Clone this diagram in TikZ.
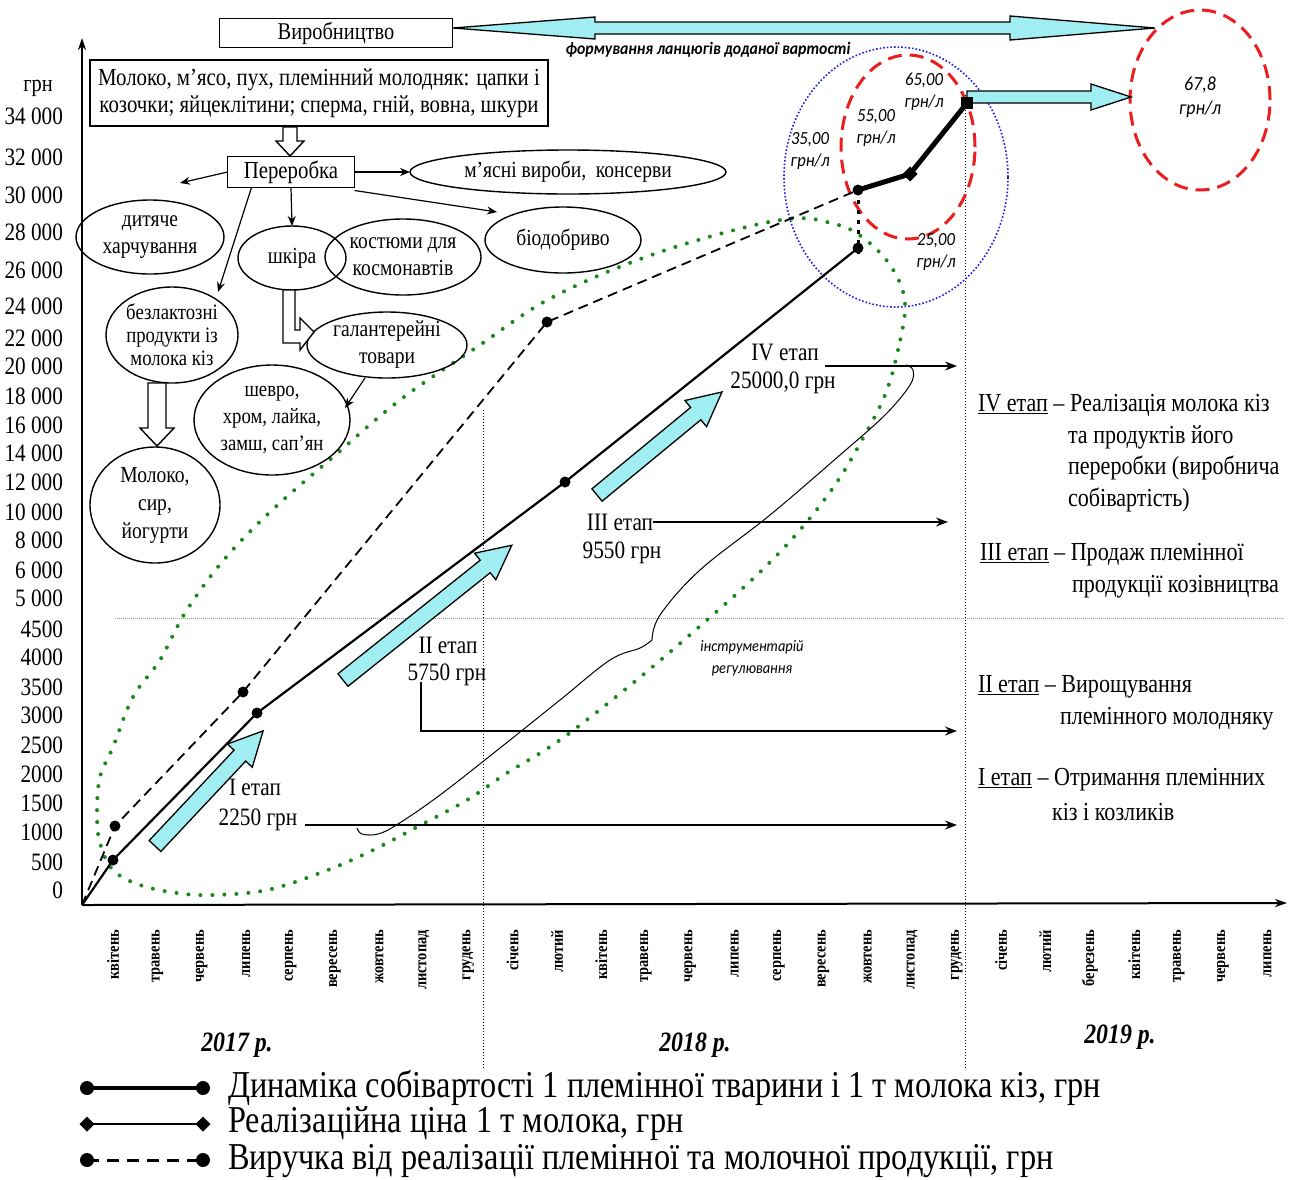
\documentclass[tikz,border=0pt]{standalone}
\usepackage{fontspec}
\setmainfont{Liberation Serif}[FakeStretch=0.85]
\newfontfamily\calfont{Carlito}[FakeStretch=0.9]
\usetikzlibrary{shapes.geometric,arrows.meta,calc}
\definecolor{cyanfill}{RGB}{160,238,242}
\definecolor{dotgreen}{RGB}{25,135,25}
\definecolor{dashred}{RGB}{235,30,30}
\definecolor{dotblue}{RGB}{30,30,230}
\newcommand{\fsz}[2]{\fontsize{#1pt}{#2pt}\selectfont}
\begin{document}
\begin{tikzpicture}[x=1pt,y=-1pt,
  every node/.style={inner sep=0pt, outer sep=0pt},
  box/.style={draw, line width=1.5pt, fill=white, align=center, font=\fsz{24.5}{27}},
  ell/.style={ellipse, draw, line width=1.4pt, align=center, inner sep=-4pt, font=\fsz{23}{27}},
  txt/.style={align=center, font=\fsz{25}{28}},
  ylab/.style={anchor=east, font=\fsz{25}{25}},
  month/.style={rotate=90, anchor=east, font=\bfseries\fsz{17}{17}},
  year/.style={font=\bfseries\itshape\fsz{28}{28}},
  cal/.style={font=\calfont\itshape\fsz{18.5}{22}, align=center},
  arr/.style={line width=1.2pt, -{Stealth[length=10pt,width=8pt]}},
  stagearr/.style={line width=1.5pt, -{Stealth[length=12pt,width=9pt]}},
  ptdot/.style={circle, fill=black, minimum size=11pt},
  blockarrow/.style={draw=black, line width=1.3pt, fill=cyanfill, line join=miter},
  hollow/.style={draw=black, line width=1.4pt, fill=white, line join=miter},
  legtxt/.style={anchor=west, font=\fsz{38}{38}},
  rtxt/.style={anchor=west, font=\fsz{26}{26}},
  greendots/.style={dotgreen, line width=4pt, dash pattern=on 0pt off 12pt, line cap=round}
]
\fill[white] (0,0) rectangle (1297,1179);
\useasboundingbox (0,0) rectangle (1297,1179);

% ---------- grid lines ----------
\draw[gray!80, line width=1pt, densely dotted] (115,618) -- (1285,618);
\draw[line width=1pt, dotted] (483,410) -- (483,1070);
\draw[line width=1pt, dotted] (965,95) -- (965,1070);

% ---------- axes ----------
\coordinate (O) at (82,905);
\coordinate (ytop) at (82,38);
\coordinate (xend) at (1287,903);
\draw[line width=2pt, -{Stealth[length=12pt,width=8pt]}] (O) -- (ytop);
\draw[line width=2pt, -{Stealth[length=12pt,width=8pt]}] (O) -- (xend);

% y labels
\node[font=\fsz{24}{24}] (grn) at (38,88) {грн};
\foreach \v/\y in {34 000/116, 32 000/157, 30 000/195, 28 000/232, 26 000/270,
  24 000/306, 22 000/338, 20 000/366, 18 000/396, 16 000/425, 14 000/453,
  12 000/482, 10 000/512, 8 000/540, 6 000/570, 5 000/598, 4500/629, 4000/657,
  3500/687, 3000/715, 2500/745, 2000/774, 1500/803, 1000/832, 500/862, 0/890}
  \node[ylab] (y\y) at (63,\y) {\v};

% month labels
\foreach \m [count=\i from 0] in {квітень,травень,червень,липень,серпень,вересень,жовтень,листопад,грудень,січень,лютий,квітень,травень,червень,липень,серпень,вересень,жовтень,листопад,грудень,січень,лютий,березень,квітень,травень,червень,липень}
  \node[month] (m\i) at ({113+44.4*\i},930) {\m};
\node[year] (yr17) at (237,1045) {2017 р.};
\node[year] (yr18) at (695,1045) {2018 р.};
\node[year] (yr19) at (1120,1037) {2019 р.};

% ---------- green loop ----------
\draw[greendots] plot[smooth cycle, tension=0.6] coordinates {
 (905,303) (898,350) (885,395) (862,440) (835,485) (800,530) (760,572) (707,620)
 (633,683) (560,740) (507,773) (467,800) (417,827) (367,853) (320,873) (267,890)
 (213,895) (177,893) (140,885) (113,870) (100,843) (97,813) (100,777) (113,747)
 (133,697) (160,660) (185,613) (222,562) (270,512) (333,457) (400,400) (477,347)
 (553,297) (660,252) (780,220) (835,224) (866,240) (892,268)};

% ---------- circles ----------
\draw[dotblue, line width=1.6pt, dotted] (896,177) ellipse [x radius=112pt, y radius=130pt];
\draw[dashred, line width=3pt, dash pattern=on 14pt off 8pt] (908,147) ellipse [x radius=67pt, y radius=92pt];
\draw[dashred, line width=3pt, dash pattern=on 14pt off 8pt] (1200,100) ellipse [x radius=70pt, y radius=90pt];

% ---------- top long arrow ----------
\draw[blockarrow] (453,28) -- (595,17) -- (595,22) -- (1010,22) -- (1010,16) -- (1155,28)
  -- (1010,40) -- (1010,34) -- (595,34) -- (595,39) -- cycle;
\node[cal, font=\calfont\bfseries\itshape\fsz{17.5}{17.5}] (form) at (708,50) {формування ланцюгів доданої вартості};
% right block arrow
\draw[blockarrow] (967,91) -- (1091,91) -- (1091,84) -- (1131,97) -- (1091,110) -- (1091,103) -- (967,103) -- cycle;

% ---------- data lines ----------
\coordinate (c1) at (113,860);
\coordinate (c2) at (257,713);
\coordinate (c3) at (565,482);
\coordinate (c4) at (858,248);
\coordinate (r1) at (115,826);
\coordinate (r2) at (243,692);
\coordinate (r3) at (547,322);
\coordinate (r4) at (858,190);
\coordinate (p1) at (910,174);
\coordinate (p2) at (967,103);
\coordinate (c4b) at (858,258);
\draw[line width=2.2pt] (O) -- (c1) -- (c2) -- (c3) -- (c4);
\draw[line width=1.8pt, dash pattern=on 10pt off 6pt] (O) -- (r1) -- (r2) -- (r3) -- (r4);
\draw[line width=3pt, dash pattern=on 4pt off 6pt] (r4) -- (c4b);
\draw[line width=5pt, line join=round] (r4) -- (p1) -- (p2);
\foreach \c in {c1,c2,c3,c4,r1,r2,r3,r4} \node[ptdot] (d\c) at (\c) {};
\node[diamond, fill=black, minimum size=15pt] (dp1) at (p1) {};
\node[fill=black, minimum size=12pt] (dp2) at (p2) {};

% circle labels
\node[cal] (v65) at (924,92) {65,00\\грн/л};
\node[cal] (v55) at (876,128) {55,00\\грн/л};
\node[cal] (v35) at (810,151) {35,00\\грн/л};
\node[cal] (v25) at (936,252) {25,00\\грн/л};
\node[cal, font=\calfont\itshape\fsz{20}{24}] (v678) at (1200,97) {67,8\\грн/л};

% ---------- cyan block arrows ----------
\begin{scope}[shift={(155,846)}, rotate=46.8]
 \draw[blockarrow] (0,-8) -- (124,-8) -- (124,-17) -- (158,0) -- (124,17) -- (124,8) -- (0,8) -- cycle;
\end{scope}
\begin{scope}[shift={(343,680)}, rotate=38.6]
 \draw[blockarrow] (0,-8) -- (182,-8) -- (182,-17) -- (216,0) -- (182,17) -- (182,8) -- (0,8) -- cycle;
\end{scope}
\begin{scope}[shift={(597,495)}, rotate=39.5]
 \draw[blockarrow] (0,-8) -- (128,-8) -- (128,-17) -- (162,0) -- (128,17) -- (128,8) -- (0,8) -- cycle;
\end{scope}

% ---------- stage labels ----------
\node[txt] (s1a) at (255,787) {I етап};
\node[txt] (s1b) at (258,820) {2250 грн};
\coordinate (s1e) at (957,825);
\draw[stagearr] ([xshift=8pt]s1b.east |- s1e) -- (s1e);

\node[txt] (s2a) at (448,645) {II етап};
\node[txt] (s2b) at (447,675) {5750 грн};
\coordinate (s2k) at (421,731);
\coordinate (s2e) at (957,731);
\draw[stagearr] ([yshift=4pt]s2k |- s2b.south) -- (s2k) -- (s2e);

\node[txt] (s3a) at (620,522) {III етап};
\node[txt] (s3b) at (622,553) {9550 грн};
\coordinate (s3e) at (948,522);
\draw[stagearr] (s3a.east) -- (s3e);

\node[txt] (s4a) at (785,352) {IV етап};
\node[txt] (s4b) at (783,383) {25000,0 грн};
\coordinate (s4e) at (957,366);
\draw[stagearr] ([xshift=6pt]s4a.east |- s4e) -- (s4e);

% brace
\draw[line width=1pt] plot[smooth, tension=0.6] coordinates {(357,828) (362,834) (378,834) (398,824) (440,795) (500,748) (560,700) (610,660) (640,648) (652,640)};
\draw[line width=1pt] plot[smooth, tension=0.6] coordinates {(652,640) (660,615) (700,570) (770,515) (840,455) (885,415) (910,385) (913,370) (906,365)};
\node[cal, font=\calfont\itshape\fsz{16}{22}] (instr) at (752,658) {інструментарій\\регулювання};

% ---------- right legend ----------
\node[rtxt] (L4a) at (978,405) {\underline{IV етап} – Реалізація молока кіз};
\node[rtxt] (L4b) at (1068,437) {та продуктів його};
\node[rtxt] (L4c) at (1068,468) {переробки (виробнича};
\node[rtxt] (L4d) at (1068,500) {собівартість)};
\node[rtxt] (L3a) at (980,555) {\underline{III етап} – Продаж племінної};
\node[rtxt] (L3b) at (1072,587) {продукції козівництва};
\node[rtxt] (L2a) at (978,687) {\underline{II етап} – Вирощування};
\node[rtxt] (L2b) at (1060,719) {племінного молодняку};
\node[rtxt] (L1a) at (978,780) {\underline{I етап} – Отримання племінних};
\node[rtxt] (L1b) at (1052,812) {кіз і козликів};

% ---------- upper-left scheme ----------
\node[box, minimum width=233, minimum height=29, font=\fsz{24}{24}] (vyr) at (336,33) {Виробництво};
\node[box, minimum width=458, minimum height=66] (prod) at (319,93) {Молоко, м’ясо, пух, племінний молодняк: цапки і\\козочки; яйцеклітини; сперма, гній, вовна, шкури};
\node[box, minimum width=127, minimum height=31] (per) at (291,172) {Переробка};
\draw[hollow] (283,127) -- (283,141) -- (276,141) -- (290,156) -- (304,141) -- (297,141) -- (297,127) -- cycle;

\node[ell, minimum width=148, minimum height=74] (dyt) at (150,237) {дитяче\\харчування};
\node[ell, minimum width=316, minimum height=44] (myas) at (568,172) {м’ясні вироби,\ \ консерви};
\node[ell, minimum width=156, minimum height=76] (kost) at (403,257) {костюми для\\космонавтів};
\node[ell, minimum width=108, minimum height=64] (shk) at (292,258) {шкіра};
\node[ell, minimum width=156, minimum height=66] (bio) at (563,240) {біодобриво};
\node[ell, minimum width=132, minimum height=96, font=\fsz{22}{23}] (bezl) at (172,335) {безлактозні\\продукти із\\молока кіз};
\node[ell, minimum width=130, minimum height=116, font=\fsz{23}{28}] (mol) at (155,505) {Молоко,\\сир,\\йогурти};
\node[ell, minimum width=160, minimum height=66] (gal) at (387,345) {галантерейні\\товари};
\node[ell, minimum width=156, minimum height=110, font=\fsz{22}{27}] (shev) at (272,420) {шевро,\\хром, лайка,\\замш, сап’ян};

\coordinate (e1) at (180,183);
\coordinate (e3) at (218,292);
\coordinate (e5) at (497,212);
\coordinate (e6) at (345,408);
\draw[arr] (per.west) -- (e1);
\draw[arr] (per.east) -- (myas.west);
\draw[arr] ([xshift=24pt]per.south west) -- (e3);
\draw[arr] (per.south) -- (shk.north);
\draw[arr] ([yshift=-3pt]per.south east) -- (e5);
\draw[arr] ([xshift=-22pt]gal.south) -- (e6);
\draw[hollow] (148,383) -- (148,428) -- (140,428) -- (157,446) -- (174,428) -- (166,428) -- (166,383) -- cycle;
\draw[hollow] (283,290) -- (283,343) -- (300,343) -- (300,350) -- (314,332) -- (300,318) -- (300,330) -- (295,330) -- (295,290) -- cycle;

% ---------- bottom legend ----------
\coordinate (la1) at (87,1088); \coordinate (lb1) at (203,1088);
\coordinate (la2) at (87,1124); \coordinate (lb2) at (203,1124);
\coordinate (la3) at (87,1160); \coordinate (lb3) at (203,1160);
\draw[line width=4pt] (la1) -- (lb1);
\node[ptdot, minimum size=14pt] (ma1) at (la1) {};
\node[ptdot, minimum size=14pt] (mb1) at (lb1) {};
\draw[line width=2.5pt] (la2) -- (lb2);
\node[diamond, fill=black, minimum size=15pt] (ma2) at (la2) {};
\node[diamond, fill=black, minimum size=15pt] (mb2) at (lb2) {};
\draw[line width=3pt, dash pattern=on 12pt off 8pt] (la3) -- (lb3);
\node[ptdot, minimum size=14pt] (ma3) at (la3) {};
\node[ptdot, minimum size=14pt] (mb3) at (lb3) {};
\node[legtxt] (lt1) at (228,1088) {Динаміка собівартості 1 племінної тварини і 1 т молока кіз, грн};
\node[legtxt] (lt2) at (228,1124) {Реалізаційна ціна 1 т молока, грн};
\node[legtxt] (lt3) at (228,1161) {Виручка від реалізації племінної та молочної продукції, грн};
\end{tikzpicture}
\end{document}
